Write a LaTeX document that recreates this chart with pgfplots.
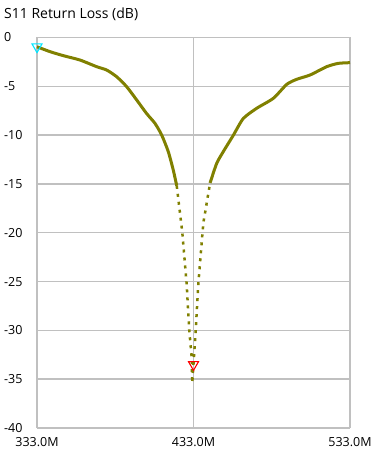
\documentclass[border=0pt]{standalone}
\usepackage{pgfplots}
\pgfplotsset{compat=1.18}
\usepackage{fontspec}
\setmainfont{Open Sans}
\definecolor{curve}{HTML}{808000}
\definecolor{gridc}{HTML}{C0C0C0}
\definecolor{mcyan}{HTML}{00E5FF}
\begin{document}
\fontsize{12.5}{15}\selectfont
\begin{tikzpicture}[x=1pt,y=1pt]
\useasboundingbox (0,0) rectangle (375,454);
\begin{axis}[
  at={(37pt,26pt)}, anchor=south west,
  scale only axis, width=313pt, height=390.5pt,
  xmin=333, xmax=533, ymin=-40, ymax=0,
  clip=false,
  axis line style={draw=none},
  major tick length=0pt,
  grid=major,
  major grid style={color=gridc, line width=1.4pt},
  xtick={333,433,533},
  xticklabels={333.0M,433.0M,533.0M},
  ytick={-40,-35,-30,-25,-20,-15,-10,-5,0},
  yticklabels={-40,-35,-30,-25,-20,-15,-10,-5,0},
  xticklabel style={font=\fontsize{12.5}{15}\selectfont, anchor=north, inner sep=0pt, yshift=-9pt},
  yticklabel style={font=\fontsize{12.5}{15}\selectfont, anchor=west, inner sep=0pt, xshift=-33pt},
]
% upper left branch
\addplot[curve, line width=3pt, line join=round, smooth, tension=0.4] coordinates {
(333,-0.95) (341.3,-1.45) (349.8,-1.86) (360.5,-2.31) (371.1,-2.99)
(377.5,-3.33) (383.9,-4.02) (390.3,-5.04) (396.7,-6.4) (403.1,-7.8) (408.4,-8.8)
(412.7,-10) (416.9,-11.7) (420.1,-13.6) (422.3,-15.2)
};
% steep dip (sparse points)
\addplot[curve, line width=2.5pt, dash pattern=on 3pt off 5pt] coordinates {
(422.3,-15.2) (425.8,-19.9) (428.6,-25.2) (430.3,-30) (431.8,-32.7)
(432.2,-35.4) (433.3,-32.7) (434.4,-30) (436.1,-25.2) (438.9,-19.7)
(439.5,-18.8) (443.6,-14.9)
};
% upper right branch
\addplot[curve, line width=3pt, line join=round, smooth, tension=0.4] coordinates {
(443.6,-14.9) (447.8,-12.9) (452,-11.7) (458.5,-10) (464.8,-8.3)
(473.4,-7.25) (484.0,-6.23) (492.6,-4.8) (499,-4.28) (507.5,-3.84)
(518.1,-2.99) (525.5,-2.65) (533,-2.58)
};
% markers
\addplot[only marks, mark=triangle, mark size=5.8pt, mark options={draw=mcyan, line width=1.1pt, rotate=180}] coordinates {(333,-0.95)};
\addplot[only marks, mark=triangle, mark size=5.8pt, mark options={draw=red, line width=1.1pt, rotate=180}] coordinates {(433,-33.5)};
\end{axis}
\node[anchor=west, inner sep=0pt, font=\fontsize{14}{16}\selectfont] at (4,440) {S11 Return Loss (dB)};
\end{tikzpicture}
\end{document}
